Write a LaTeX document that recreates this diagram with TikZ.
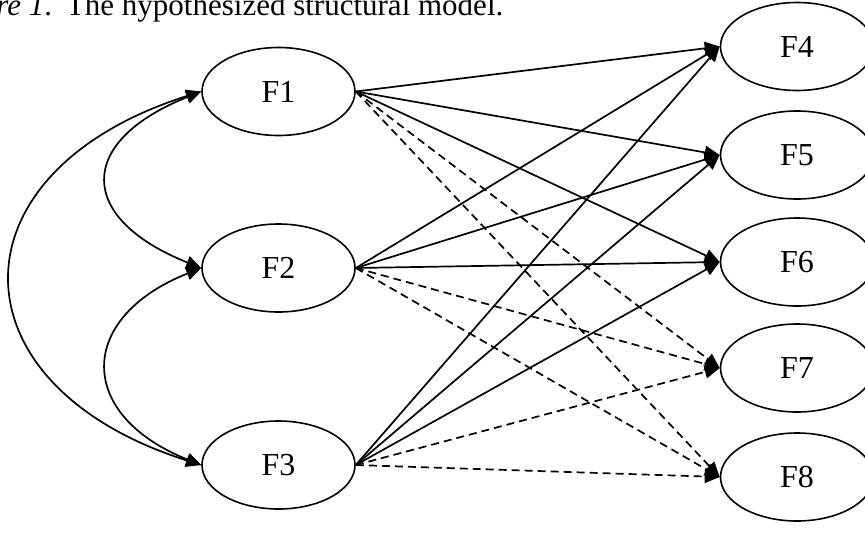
\documentclass[tikz,border=0pt]{standalone}
\usepackage{fontspec}
\setmainfont{Liberation Serif}
\usetikzlibrary{shapes.geometric,arrows.meta}
\begin{document}
\begin{tikzpicture}[x=1pt,y=-1pt,
  fac/.style={draw,ellipse,line width=1.6pt,minimum width=153pt,minimum height=88pt,inner sep=0pt,font=\fontsize{32}{36}\selectfont},
  conn/.style={line width=1.7pt,-{Triangle[length=15pt,width=13pt]}},
  dconn/.style={conn,dash pattern=on 8pt off 5pt},
  cov/.style={line width=1.7pt,{Triangle[length=15pt,width=13pt]}-{Triangle[length=15pt,width=13pt]}}]
\useasboundingbox (0,0) rectangle (865,533);
\clip (0,0) rectangle (865,533);
\node[anchor=base west,inner sep=0pt,font=\fontsize{31}{34}\selectfont] (title) at (-62.4,15) {\textit{Figure 1}.\hspace{14pt}The hypothesized structural model.};
\node[fac] (F1) at (278.5,91.5) {F1};
\node[fac] (F2) at (278.5,268) {F2};
\node[fac] (F3) at (278.5,465) {F3};
\node[fac] (F4) at (797,46.5) {F4};
\node[fac] (F5) at (797,155) {F5};
\node[fac] (F6) at (797,262) {F6};
\node[fac] (F7) at (797,368) {F7};
\node[fac] (F8) at (797,477) {F8};
\foreach \s in {F1,F2,F3}{
  \foreach \t in {F4,F5,F6}{
    \draw[conn] (\s.east) -- (\t.west);
  }
  \foreach \t in {F7,F8}{
    \draw[dconn] (\s.east) -- (\t.west);
  }
}
\draw[cov] (F1.west) .. controls +(-125,50) and +(-125,-50) .. (F2.west);
\draw[cov] (F2.west) .. controls +(-125,50) and +(-125,-50) .. (F3.west);
\draw[cov] (F1.west) .. controls +(-253,80) and +(-253,-80) .. (F3.west);
\end{tikzpicture}
\end{document}
